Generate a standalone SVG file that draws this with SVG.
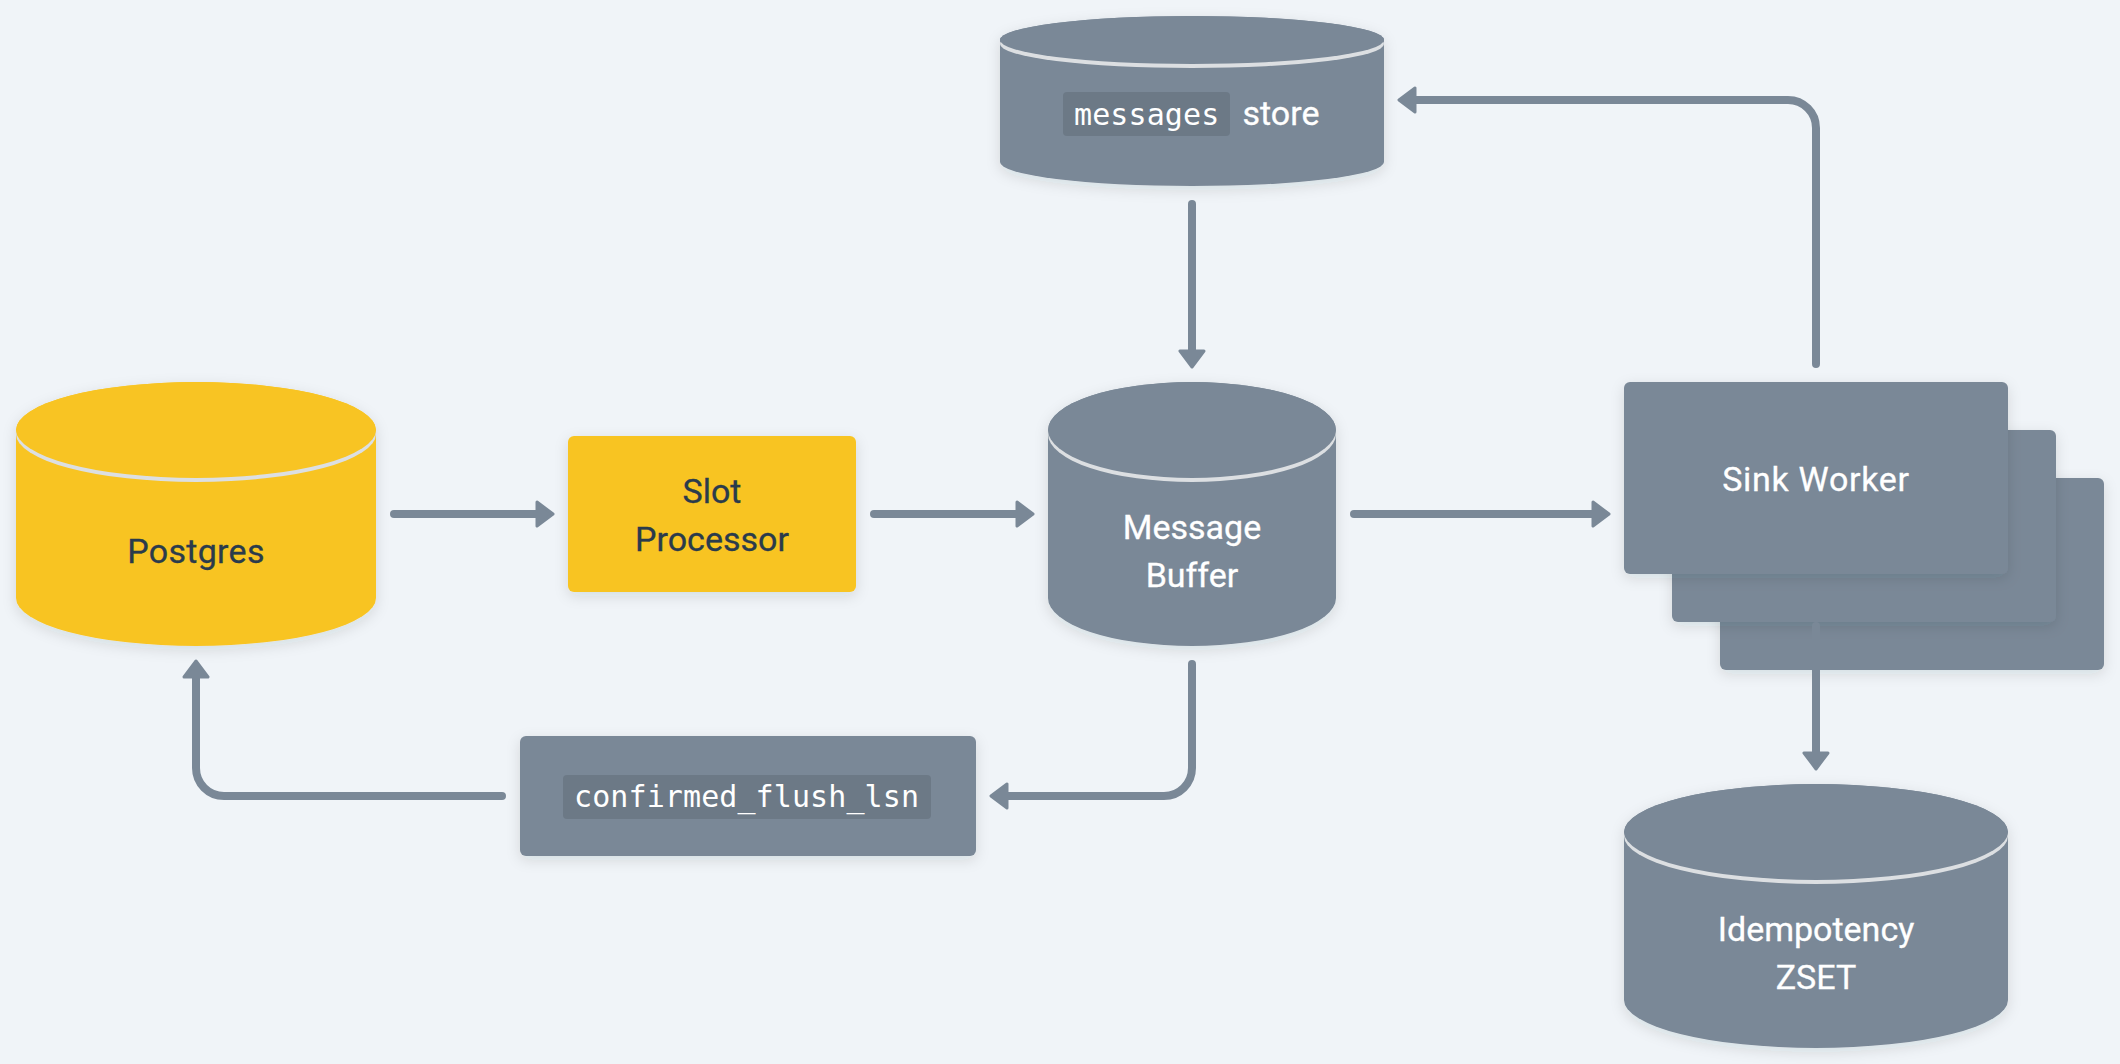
<svg xmlns="http://www.w3.org/2000/svg" width="2120" height="1064" viewBox="0 0 2120 1064">
<style>
.bg{fill:#f0f4f8}
.g{fill:#7a8897}
.y{fill:#f8c423}
.rim{fill:#dcdfe2}
.sh{filter:url(#shadow)}
text{font-family:"Roboto","Liberation Sans",sans-serif;font-size:34px;text-anchor:middle;font-weight:400;stroke-width:.3px}
.w{fill:#ffffff;stroke:#ffffff}
.d{fill:#2a3b4c;stroke:#2a3b4c}
.wide{letter-spacing:.7px}
.code{font-family:"DejaVu Sans Mono","Liberation Mono",monospace;font-size:30px;letter-spacing:.1px;text-anchor:start;font-weight:400;fill:#ffffff}
.cbg{fill:#6c7986}
.c{fill:none;stroke:#7a8897;stroke-width:8;stroke-linecap:round;stroke-linejoin:round;marker-end:url(#arrow)}
</style>
<defs>
<filter id="shadow" x="-15%" y="-15%" width="130%" height="135%">
<feDropShadow dx="0" dy="4" stdDeviation="7" flood-color="#1a2b3c" flood-opacity="0.12"/>
</filter>
<marker id="arrow" markerUnits="userSpaceOnUse" markerWidth="20" markerHeight="28" viewBox="0 0 20 28" refX="9" refY="14" orient="auto">
<path d="M2 2 L18 14 L2 26 Z" fill="#7a8897" stroke="#7a8897" stroke-width="3" stroke-linejoin="round"/>
</marker>
</defs>
<rect class="bg" width="2120" height="1064"/>

<g id="postgres">
<path class="y sh" d="M16 430 A180 48 0 0 1 376 430 V598 A180 48 0 0 1 16 598 Z"/>
<ellipse class="rim" cx="196" cy="434" rx="180" ry="48"/>
<ellipse class="y" cx="196" cy="430" rx="180" ry="48"/>
<text class="d" x="196" y="563" style="letter-spacing:.3px">Postgres</text>
</g>

<g id="slot-processor">
<rect class="y sh" x="568" y="436" width="288" height="156" rx="6"/>
<text class="d" x="712" y="503">Slot</text>
<text class="d" x="712" y="551">Processor</text>
</g>

<g id="message-buffer">
<path class="g sh" d="M1048 430 A144 48 0 0 1 1336 430 V598 A144 48 0 0 1 1048 598 Z"/>
<ellipse class="rim" cx="1192" cy="434" rx="144" ry="48"/>
<ellipse class="g" cx="1192" cy="430" rx="144" ry="48"/>
<text class="w" x="1192" y="539">Message</text>
<text class="w" x="1192" y="587">Buffer</text>
</g>

<g id="messages-store">
<path class="g sh" d="M1000 40 A192 24 0 0 1 1384 40 V162 A192 24 0 0 1 1000 162 Z"/>
<ellipse class="rim" cx="1192" cy="44" rx="192" ry="24"/>
<ellipse class="g" cx="1192" cy="40" rx="192" ry="24"/>
<rect class="cbg" x="1063" y="92" width="167" height="44" rx="4"/>
<text class="code" x="1074" y="125">messages</text>
<text class="w" x="1281" y="125">store</text>
</g>

<g id="confirmed-flush-lsn">
<rect class="g sh" x="520" y="736" width="456" height="120" rx="6"/>
<rect class="cbg" x="563" y="775" width="368" height="44" rx="4"/>
<text class="code" x="574" y="807">confirmed_flush_lsn</text>
</g>

<g id="sink-worker-3"><rect class="g sh" x="1720" y="478" width="384" height="192" rx="6"/></g>
<g id="sink-worker-2"><rect class="g sh" x="1672" y="430" width="384" height="192" rx="6"/></g>
<g id="sink-worker-1">
<rect class="g sh" x="1624" y="382" width="384" height="192" rx="6"/>
<text class="w wide" x="1816" y="491">Sink Worker</text>
</g>

<g id="idempotency-zset">
<path class="g sh" d="M1624 832 A192 48 0 0 1 2008 832 V1000 A192 48 0 0 1 1624 1000 Z"/>
<ellipse class="rim" cx="1816" cy="836" rx="192" ry="48"/>
<ellipse class="g" cx="1816" cy="832" rx="192" ry="48"/>
<text class="w" x="1816" y="941">Idempotency</text>
<text class="w" x="1816" y="989">ZSET</text>
</g>

<g id="connectors">
<path class="c" d="M394 514 H544"/>
<path class="c" d="M874 514 H1024"/>
<path class="c" d="M1354 514 H1600"/>
<path class="c" d="M1192 204 V358"/>
<path class="c" d="M1816 364 V128 A28 28 0 0 0 1788 100 H1408"/>
<path class="c" d="M1816 626 V760"/>
<path class="c" d="M1192 664 V768 A28 28 0 0 1 1164 796 H1000"/>
<path class="c" d="M502 796 H224 A28 28 0 0 1 196 768 V670"/>
</g>
</svg>
